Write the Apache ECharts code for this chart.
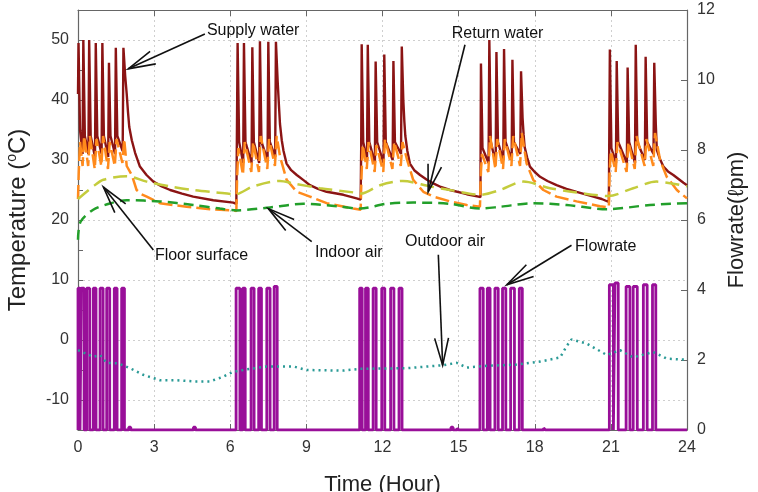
<!DOCTYPE html>
<html>
<head>
<meta charset="utf-8">
<script src="https://cdn.jsdelivr.net/npm/echarts@6/dist/echarts.min.js"></script>
<style>
html,body{margin:0;padding:0;background:#fff;}
#chart{width:758px;height:492px;}
</style>
</head>
<body>
<div id="chart"></div>
<script>
// ---- Data (hour, value) ----
const xTicks = [0, 3, 6, 9, 12, 15, 18, 21, 24];

const supplyWater = [
  [0,41],[0.02,49.5],[0.08,35],[0.18,31],[0.21,50],[0.27,34],[0.41,31],[0.44,50],[0.50,34],[0.67,30.5],
  [0.70,49.5],[0.76,34],[0.93,31],[0.96,49.5],[1.02,34],[1.19,30.5],[1.22,46.2],[1.28,34],[1.46,31],[1.49,48.7],
  [1.55,34],[1.76,31.5],[1.79,48.7],[1.86,44],[1.92,41],[1.97,38],[2.02,35.5],[2.12,33.3],[2.25,31.2],[2.44,28.9],
  [2.7,27.5],[2.97,26.4],[3.3,25.6],[3.63,25],[4.1,24.4],[4.54,23.9],[5.33,23.3],[6.12,22.9],[6.24,22.7],
  [6.26,33],[6.29,49.5],[6.35,33],[6.51,29.5],[6.54,49.5],[6.60,33],[6.84,29.5],[6.87,48.8],[6.93,33],[7.14,29.5],
  [7.17,49.8],[7.23,33],[7.47,30],[7.50,49.7],[7.56,33],[7.77,30.5],[7.80,49.7],[7.87,43],[7.92,39],[7.96,36],
  [8.03,33.3],[8.10,31.5],[8.22,29.4],[8.4,28.3],[8.62,27.5],[8.9,26.6],[9.14,25.8],[9.46,25.2],[9.80,24.7],
  [10.46,24.2],[10.98,23.6],[11.14,23.4],
  [11.16,32],[11.18,49.3],[11.24,33],[11.39,30],[11.42,49.2],[11.48,33],[11.70,29.5],[11.73,46.4],[11.79,33],
  [12.04,29.5],[12.07,47.6],[12.13,33],[12.40,30],[12.43,46.5],[12.49,33],[12.73,31],[12.76,48.9],[12.82,40],
  [12.86,36.5],[12.90,34],[12.98,31.5],[13.08,29.4],[13.25,28.3],[13.48,27.5],[13.75,26.7],[14.00,26.1],
  [14.3,25.5],[14.66,25],[15.32,24.3],[15.78,23.9],[15.86,23.8],
  [15.88,46.1],[15.94,32],[16.18,29.5],[16.21,50],[16.27,33],[16.46,29.5],[16.49,48],[16.55,33],[16.76,30],
  [16.79,48.5],[16.85,33],[17.09,30],[17.12,46.7],[17.18,33],[17.43,31],[17.46,44.8],[17.52,37],[17.56,34.3],
  [17.60,32.2],[17.7,30.4],[17.81,28.9],[18.0,28],[18.21,27.2],[18.5,26.5],[18.86,25.8],[19.25,25.2],
  [19.65,24.7],[20.31,23.9],[20.64,23.5],[20.92,23],
  [20.96,48.4],[21.02,32],[21.20,29.5],[21.23,46.5],[21.29,33],[21.63,29.5],[21.66,45.4],[21.72,33],[21.95,29.5],
  [21.98,49.2],[22.04,33],[22.34,30],[22.37,47.2],[22.43,33],[22.68,31],[22.71,46.2],[22.77,36],[22.81,31.7],
  [22.93,30.2],[23.07,28.9],[23.25,28.1],[23.46,27.5],[23.86,26.2],[24,25.8]
];

const returnWater = [
  [0,23.5],[0.03,28],[0.08,33],[0.18,29],[0.24,34],[0.40,29],[0.47,34],[0.66,28.5],[0.73,33.5],[0.92,29],
  [0.99,34],[1.18,28.5],[1.25,33],[1.45,29],[1.52,33.5],[1.75,29.5],[1.82,33.5],[1.92,29],[2.12,27.5],[2.31,25],
  [2.5,24.3],[2.71,23.9],[3.23,22.8],[4.28,22.2],[5.20,21.8],[6.12,21.6],[6.24,21.5],
  [6.27,27],[6.32,32],[6.50,27.5],[6.57,33],[6.83,28],[6.90,33],[7.13,28],[7.20,34],[7.46,28.5],[7.53,33.5],
  [7.76,29],[7.83,34],[7.96,30.6],[8.22,26.7],[8.62,24.7],[9.14,23.9],[9.80,22.8],[10.85,21.9],[11.14,21.7],
  [11.17,27],[11.22,32.5],[11.38,28.5],[11.45,33],[11.69,28],[11.76,32.5],[12.03,28],[12.10,33.5],[12.39,28.5],
  [12.46,33],[12.72,29],[12.79,33],[12.97,30],[13.21,26.7],[13.61,24.7],[14.00,23.9],[14.66,23.1],[15.32,22.5],
  [15.84,22.2],
  [15.88,28],[15.92,31],[16.17,28],[16.24,34],[16.45,28.5],[16.52,33.5],[16.75,28.5],[16.82,33.5],[17.08,29],
  [17.15,34],[17.42,29],[17.49,34.5],[17.68,29.4],[17.94,26.7],[18.34,25],[18.86,23.9],[19.65,23.1],[20.57,22.3],
  [20.92,22.1],
  [20.95,28],[21.00,31.5],[21.19,28],[21.26,33],[21.62,28],[21.69,33],[21.94,28.5],[22.01,34],[22.33,29],
  [22.40,33.5],[22.67,29],[22.74,34.5],[22.94,30],[23.20,27.2],[23.60,25],[24,23.6]
];

const floorSurface = [
  [0,23.5],[0.6,25.6],[1.0,26.7],[1.92,27.3],[2.71,26.4],[3.63,25.6],[4.54,25],[5.46,24.6],[6.2,24.3],
  [6.9,25.6],[7.96,26.5],[8.48,26.1],[9.54,25.3],[10.85,24.6],[11.15,24.4],[11.9,25.8],[12.8,26.5],
  [13.87,25.6],[14.66,25],[15.84,24.2],[16.63,25],[17.55,26.4],[18.6,25.3],[19.65,24.6],[20.9,24],
  [21.88,25.3],[22.8,26.4],[24,25.6]
];

const indoorAir = [
  [0,16.7],[0.1,19.7],[0.6,21.7],[1.3,22.8],[1.92,23.3],[3.23,23.1],[4.54,22.5],[5.6,21.9],[6.25,21.6],
  [7.57,22.1],[8.88,22.7],[10.2,22.3],[11.11,21.9],[12.16,22.7],[13.21,22.9],[14.66,22.7],[15.84,21.9],
  [16.63,22.2],[17.94,22.8],[19.26,22.5],[20.84,21.8],[22.54,22.5],[24,22.8]
];

const outdoorAir = [
  [0,-1.7],[0.6,-2.8],[0.87,-2.5],[1.13,-3.8],[1.59,-3.9],[2.05,-4.7],[2.57,-5.8],[3.23,-6.7],[3.89,-6.7],
  [4.54,-6.9],[5.2,-6.9],[5.73,-6.1],[6.12,-5.3],[6.65,-4.9],[7.44,-4.4],[8.48,-4.4],[9.01,-5],[10.46,-5.1],
  [11.11,-4.8],[12.95,-4.7],[14.4,-4.2],[14.92,-3.8],[15.32,-4.6],[16.1,-4.3],[17.28,-4.1],[18.21,-3.6],
  [19.0,-2.9],[19.26,-1],[19.45,0.1],[20.05,-0.6],[20.84,-2.5],[21.36,-1.7],[21.88,-2.9],[22.67,-2],
  [23.2,-3.1],[24,-3.3]
];

// flow pulses: [start hour, end hour, flowrate lpm]
const flowPulses = [
  [0,0.08,4.05],[0.13,0.24,4.05],[0.34,0.46,4.05],[0.6,0.71,4.05],[0.87,0.99,4.05],[1.13,1.25,4.05],[1.43,1.54,4.05],[1.72,1.83,4.05],
  [2.0,2.08,0.08],[4.55,4.63,0.08],
  [6.23,6.38,4.05],[6.49,6.59,4.05],[6.82,6.94,4.05],[7.12,7.23,4.05],[7.44,7.57,4.05],[7.73,7.85,4.1],
  [11.1,11.2,4.05],[11.33,11.44,4.05],[11.63,11.75,4.05],[11.97,12.09,4.05],[12.32,12.45,4.05],[12.65,12.77,4.05],
  [14.7,14.78,0.08],[14.95,15.0,0.06],
  [15.84,15.97,4.05],[16.13,16.24,4.05],[16.43,16.56,4.05],[16.73,16.86,4.05],[17.05,17.2,4.05],[17.39,17.51,4.05],
  [18.35,18.42,0.06],
  [20.94,21.1,4.15],[21.16,21.29,4.2],[21.6,21.75,4.1],[21.88,22.04,4.1],[22.28,22.43,4.15],[22.64,22.77,4.15]
];

// annotations: label text position (data coords) and arrow from/to (data coords)
const annotations = [
  {text:'Supply water', at:[5.08,51.6], from:[5.0,51.0], to:[1.98,45.2]},
  {text:'Return water', at:[14.73,51.0], from:[15.25,49.2], to:[13.8,24.7]},
  {text:'Floor surface', at:[3.03,14.0], from:[2.97,15.0], to:[1.0,25.5]},
  {text:'Indoor air', at:[9.34,14.5], from:[9.21,16.4], to:[7.5,21.9]},
  {text:'Outdoor air', at:[12.89,16.4], from:[14.2,14.2], to:[14.37,-4.2]},
  {text:'Flowrate', at:[19.59,15.6], from:[19.45,15.8], to:[16.9,9.2]}
];

// ---- build flow step data from the pulses ----
const flowData = [[0,0]];
flowPulses.forEach(p => { flowData.push([p[0],0],[p[0],p[2]],[p[1],p[2]],[p[1],0]); });
flowData.push([24,0]);

const FONT = '"Liberation Sans", Arial, sans-serif';
const chart = echarts.init(document.getElementById('chart'), null, {renderer:'canvas'});

const axisLineStyle = {color:'#666', width:1.2};

chart.setOption({
  animation:false,
  backgroundColor:'#fff',
  grid:{left:78, right:71, top:10, bottom:62, show:false, containLabel:false, outerBoundsMode:'none'},
  xAxis:[{
    type:'value', min:0, max:24, interval:3, position:'bottom',
    name:'Time (Hour)', nameLocation:'middle', nameGap:44,
    nameTextStyle:{fontFamily:FONT, fontSize:22, color:'#222'},
    axisLine:{show:true, onZero:false, lineStyle:axisLineStyle},
    axisTick:{show:true, inside:true, length:6, lineStyle:{color:'#666'}},
    axisLabel:{fontFamily:FONT, fontSize:16, color:'#333', margin:10},
    splitLine:{show:true, lineStyle:{color:'#cfcfcf', type:[2,3], width:1}}
  },{
    type:'value', min:0, max:24, interval:3, position:'top',
    axisLine:{show:true, onZero:false, lineStyle:axisLineStyle},
    axisTick:{show:true, inside:true, length:6, lineStyle:{color:'#666'}},
    axisLabel:{show:false}, splitLine:{show:false}
  }],
  yAxis:[{
    type:'value', min:-15, max:55, interval:5, position:'left',
    name:'{n|Temperature (}{s|o}{n|C)}', nameLocation:'middle', nameGap:47, nameRotate:90,
    nameTextStyle:{rich:{
      n:{fontFamily:FONT, fontSize:24, color:'#222'},
      s:{fontFamily:FONT, fontSize:14, color:'#222', verticalAlign:'top', padding:[0,0,12,0]}
    }},
    axisLine:{show:true, onZero:false, lineStyle:axisLineStyle},
    axisTick:{show:true, inside:true, length:5, lineStyle:{color:'#666'}},
    axisLabel:{fontFamily:FONT, fontSize:16, color:'#333', margin:9,
      formatter:v => (v % 10 === 0 ? String(v) : '')},
    splitLine:{show:true, lineStyle:{color:['rgba(0,0,0,0)','#cfcfcf'], type:[2,3], width:1}}
  },{
    type:'value', min:0, max:12, interval:2, position:'right',
    name:'Flowrate(\u2113pm)', nameLocation:'middle', nameGap:31, nameRotate:90,
    nameTextStyle:{fontFamily:FONT, fontSize:22, color:'#222'},
    axisLine:{show:true, onZero:false, lineStyle:axisLineStyle},
    axisTick:{show:true, inside:true, length:6, lineStyle:{color:'#666'}},
    axisLabel:{fontFamily:FONT, fontSize:16, color:'#333', margin:10},
    splitLine:{show:false}
  }],
  series:[
    {name:'Flowrate', type:'line', xAxisIndex:0, yAxisIndex:1, data:flowData, showSymbol:false,
      lineStyle:{color:'#990f99', width:2.8}, z:2},
    {name:'Supply water', type:'line', data:supplyWater, showSymbol:false,
      lineStyle:{color:'#8b1414', width:2.4}, z:3},
    {name:'Return water', type:'line', data:returnWater, showSymbol:false,
      lineStyle:{color:'#ff8a1c', width:2.5, type:[14,5]}, z:4},
    {name:'Floor surface', type:'line', data:floorSurface, showSymbol:false, smooth:0.3,
      lineStyle:{color:'#c4cc3c', width:2.5, type:[14,7]}, z:4},
    {name:'Indoor air', type:'line', data:indoorAir, showSymbol:false, smooth:0.3,
      lineStyle:{color:'#229f2a', width:2.5, type:[10,6]}, z:4},
    {name:'Outdoor air', type:'line', data:outdoorAir, showSymbol:false,
      lineStyle:{color:'#2a9a96', width:2.5, type:[2,4]}, z:4}
  ]
});

// annotations drawn with data-coordinate anchors
const toPx = p => chart.convertToPixel({xAxisIndex:0, yAxisIndex:0}, p);
const gfx = [];
annotations.forEach(a => {
  const t = toPx(a.at), f = toPx(a.from), e = toPx(a.to);
  gfx.push({type:'text', x:t[0], y:t[1], z:20,
    style:{text:a.text, font:'16px ' + FONT, fill:'#111', textAlign:'left', textVerticalAlign:'middle'}});
  gfx.push({type:'polyline', z:20, shape:{points:[f,e]}, style:{stroke:'#111', lineWidth:1.6, fill:null}});
  const ang = Math.atan2(f[1]-e[1], f[0]-e[0]);
  const L = 28, h = 0.25;
  const b1 = [e[0] + L*Math.cos(ang+h), e[1] + L*Math.sin(ang+h)];
  const b2 = [e[0] + L*Math.cos(ang-h), e[1] + L*Math.sin(ang-h)];
  gfx.push({type:'polyline', z:20, shape:{points:[b1,e,b2]}, style:{stroke:'#111', lineWidth:1.6, fill:null}});
});
chart.setOption({graphic:gfx});
</script>
</body>
</html>
